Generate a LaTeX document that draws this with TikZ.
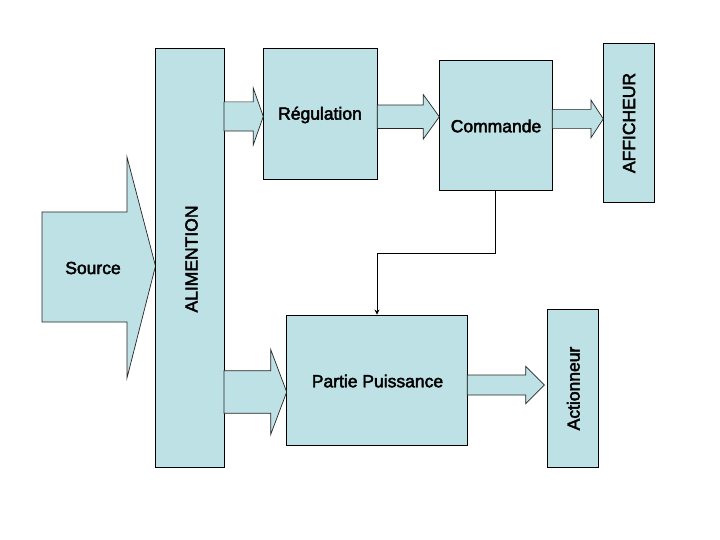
\documentclass[tikz,border=0pt]{standalone}
\usepackage{fontspec}
\setmainfont{Liberation Sans}
\newfontfamily\lblfont{Liberation Sans}[FakeBold=2.5]
\usetikzlibrary{arrows.meta}
\definecolor{boxfill}{RGB}{190,225,229}
\newcommand\blkarrow[6]{% x0, xbase, xtip, ymid, half body, half head
  \filldraw[arrowshape] (#1,#4-#5) -- (#2,#4-#5) -- (#2,#4-#6) -- (#3,#4) -- (#2,#4+#6) -- (#2,#4+#5) -- (#1,#4+#5) -- cycle;}
\begin{document}
\begin{tikzpicture}[x=1pt,y=-1pt,
  box/.style={draw=black, line width=0.8pt, fill=boxfill, inner sep=0pt, font=\lblfont\fontsize{17.5}{20}\selectfont},
  arrowshape/.style={draw=black!85, line width=0.7pt, fill=boxfill},
  lbl/.style={font=\lblfont\fontsize{17.5}{20}\selectfont, inner sep=0pt}]
\useasboundingbox (0,0) rectangle (720,540);
\fill[white] (0,0) rectangle (720,540);
% source arrow
\filldraw[arrowshape] (42,212) -- (127,212) -- (127,157) -- (155.5,266) -- (127,378) -- (127,322) -- (42,322) -- cycle;
\node[lbl] (src) at (93,268) {Source};
% boxes
\node[box, minimum width=69pt, minimum height=419.5pt] (alim) at (189.5,257.75) {};
\node[lbl, rotate=90] (alimt) at (191.5,259) {ALIMENTION};
\node[box, minimum width=114pt, minimum height=130.7pt] (reg) at (320.3,113.65) {};
\node[lbl] (regt) at (320,115) {Régulation};
\node[box, minimum width=113.3pt, minimum height=130pt] (cmd) at (495.7,125) {};
\node[lbl] (cmdt) at (496,126) {Commande};
\node[box, minimum width=50.7pt, minimum height=159pt] (aff) at (628.65,122.8) {};
\node[lbl, rotate=90] (afft) at (629,123) {AFFICHEUR};
\node[box, minimum width=180.6pt, minimum height=130pt] (pp) at (377,380) {};
\node[lbl] (ppt) at (377.5,381) {Partie Puissance};
\node[box, minimum width=50.6pt, minimum height=158.4pt] (act) at (573,388.5) {};
\node[lbl, rotate=90] (actt) at (573.3,388.5) {Actionneur};
% block arrows
\blkarrow{224}{253.3}{263.3}{116.5}{14.6}{28.3}
\blkarrow{377.3}{423.3}{439.3}{116.8}{11.7}{22.2}
\blkarrow{552.3}{591}{603.3}{118.9}{9.5}{18.8}
\blkarrow{224}{270.7}{286.7}{392}{21.3}{42.5}
\blkarrow{467.3}{525.7}{544.3}{385}{10}{18.7}
% control line
\draw[line width=0.8pt, -{Stealth[length=5pt,width=5pt]}] (cmd.south) -- ++(0,63.3) -| (pp.north);
\end{tikzpicture}
\end{document}
